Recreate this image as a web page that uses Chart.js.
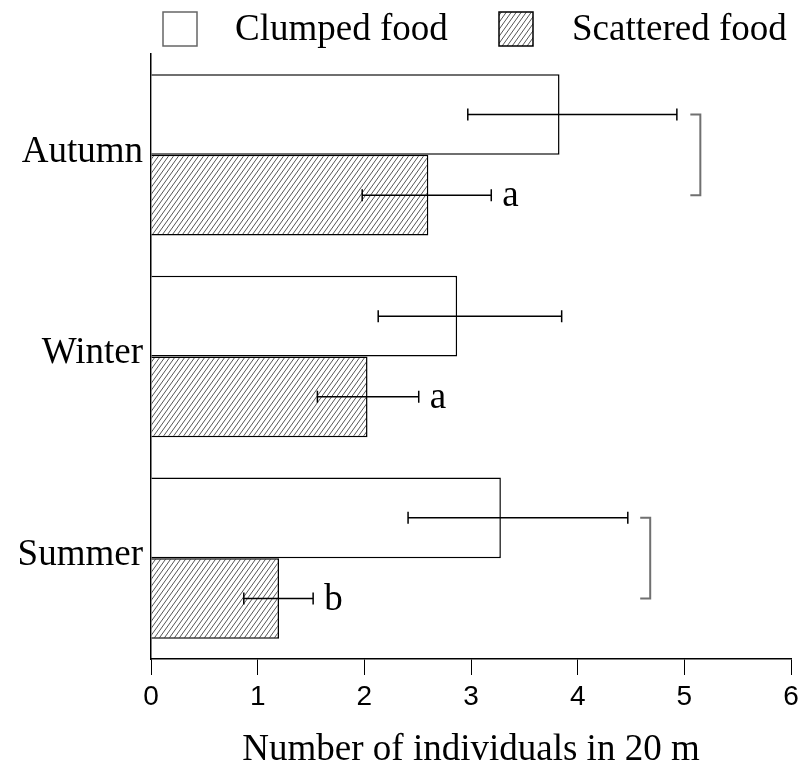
<!DOCTYPE html>
<html>
<head>
<meta charset="utf-8">
<script src="https://cdn.jsdelivr.net/npm/chart.js@4.4.1/dist/chart.umd.min.js"></script>
<style>
  html, body { margin: 0; padding: 0; background: #fff; }
  #wrap { width: 804px; height: 776px; }
</style>
</head>
<body>
<div id="wrap"><canvas id="c" width="804" height="776"></canvas></div>
<script>
// Mean number of individuals per 20 m transect, by season and food type
const seasons = ['Autumn', 'Winter', 'Summer'];
const seriesNames = ['Clumped food', 'Scattered food'];

const clumpedMean = [3.83, 2.87, 3.28];
const clumpedLow  = [2.97, 2.13, 2.41];
const clumpedHigh = [4.93, 3.85, 4.47];

const scatteredMean = [2.60, 2.03, 1.20];
const scatteredLow  = [1.98, 1.56, 0.87];
const scatteredHigh = [3.19, 2.51, 1.52];

// significance letters next to the scattered-food bars
const scatteredLetters = ['a', 'a', 'b'];
// x value of the bracket joining the two bars of a season (null = none)
const bracketAt = [5.15, null, 4.68];

const xMin = 0, xMax = 6, xStep = 1;

const SERIF = '"Liberation Serif", "Times New Roman", serif';
const SANS = '"Liberation Sans", Arial, sans-serif';
const TEXT_SIZE = 37;

function makeHatch() {
  const w = 5, h = 7;
  const c = document.createElement('canvas');
  c.width = w; c.height = h;
  const g = c.getContext('2d');
  g.fillStyle = '#fff';
  g.fillRect(0, 0, w, h);
  g.strokeStyle = '#555';
  g.lineWidth = 1;
  g.beginPath();
  for (let k = -1; k <= 1; k++) {
    g.moveTo(k * w, h);
    g.lineTo(k * w + w, 0);
  }
  g.stroke();
  return g.createPattern(c, 'repeat');
}
const hatch = makeHatch();

const errorRanges = [
  [clumpedLow, clumpedHigh],
  [scatteredLow, scatteredHigh]
];

// whiskers, letters and brackets drawn on top of the bars
const annotations = {
  id: 'annotations',
  afterDatasetsDraw(chart) {
    const ctx = chart.ctx;
    const xs = chart.scales.x;
    ctx.save();
    ctx.strokeStyle = '#000';
    ctx.lineWidth = 1.5;
    const cap = 6;
    chart.data.datasets.forEach((ds, di) => {
      const meta = chart.getDatasetMeta(di);
      const [lo, hi] = errorRanges[di];
      meta.data.forEach((bar, i) => {
        const y = bar.y;
        const x1 = xs.getPixelForValue(lo[i]);
        const x2 = xs.getPixelForValue(hi[i]);
        ctx.beginPath();
        ctx.moveTo(x1, y); ctx.lineTo(x2, y);
        ctx.moveTo(x1, y - cap); ctx.lineTo(x1, y + cap);
        ctx.moveTo(x2, y - cap); ctx.lineTo(x2, y + cap);
        ctx.stroke();
      });
    });

    // letters after the scattered-food whiskers
    const m1 = chart.getDatasetMeta(1);
    ctx.fillStyle = '#000';
    ctx.font = TEXT_SIZE + 'px ' + SERIF;
    ctx.textAlign = 'left';
    ctx.textBaseline = 'alphabetic';
    m1.data.forEach((bar, i) => {
      const x = xs.getPixelForValue(scatteredHigh[i]) + 11;
      ctx.fillText(scatteredLetters[i], x, bar.y + 11);
    });

    // brackets linking clumped and scattered bars
    const m0 = chart.getDatasetMeta(0);
    ctx.strokeStyle = '#707070';
    ctx.lineWidth = 2;
    bracketAt.forEach((v, i) => {
      if (v === null) return;
      const x = xs.getPixelForValue(v);
      const y1 = m0.data[i].y, y2 = m1.data[i].y;
      ctx.beginPath();
      ctx.moveTo(x - 10, y1); ctx.lineTo(x, y1);
      ctx.lineTo(x, y2); ctx.lineTo(x - 10, y2);
      ctx.stroke();
    });
    ctx.restore();
  }
};

// legend row across the top
const legendRow = {
  id: 'legendRow',
  afterDraw(chart) {
    const ctx = chart.ctx;
    const items = [
      { box: 163, text: 235, border: '#666' },
      { box: 499, text: 572, border: '#000' }
    ];
    const top = 12, size = 34;
    ctx.save();
    chart.data.datasets.forEach((ds, di) => {
      const it = items[di];
      ctx.fillStyle = ds.backgroundColor;
      ctx.fillRect(it.box, top, size, size);
      ctx.strokeStyle = it.border;
      ctx.lineWidth = 1.5;
      ctx.strokeRect(it.box, top, size, size);
      ctx.fillStyle = '#000';
      ctx.font = TEXT_SIZE + 'px ' + SERIF;
      ctx.textAlign = 'left';
      ctx.textBaseline = 'middle';
      ctx.fillText(ds.label, it.text, top + size / 2 + 1);
    });
    ctx.restore();
  }
};

new Chart(document.getElementById('c'), {
  type: 'bar',
  data: {
    labels: seasons,
    datasets: [
      {
        label: seriesNames[0],
        data: clumpedMean,
        backgroundColor: '#fff',
        borderColor: '#000',
        borderWidth: 1.5,
        categoryPercentage: 0.8,
        barPercentage: 1.0
      },
      {
        label: seriesNames[1],
        data: scatteredMean,
        backgroundColor: hatch,
        borderColor: '#000',
        borderWidth: 1.5,
        categoryPercentage: 0.8,
        barPercentage: 1.0
      }
    ]
  },
  options: {
    indexAxis: 'y',
    responsive: false,
    animation: false,
    devicePixelRatio: 1,
    layout: { padding: { top: 54, right: 13, bottom: 0, left: 0 } },
    plugins: {
      legend: { display: false },
      tooltip: { enabled: false }
    },
    scales: {
      x: {
        type: 'linear',
        min: xMin,
        max: xMax,
        ticks: {
          stepSize: xStep,
          color: '#000',
          font: { family: SANS, size: 28 },
          padding: 5
        },
        grid: {
          drawOnChartArea: false,
          drawTicks: true,
          tickLength: 16,
          color: '#000',
          lineWidth: 1
        },
        border: { display: true, color: '#000', width: 1.5 },
        title: {
          display: true,
          text: 'Number of individuals in 20 m',
          color: '#000',
          font: { family: SERIF, size: TEXT_SIZE },
          padding: { top: 0, bottom: 4 }
        },
        afterFit(s) { s.height = 117; }
      },
      y: {
        type: 'category',
        ticks: {
          color: '#000',
          font: { family: SERIF, size: TEXT_SIZE },
          padding: 8,
          labelOffset: -3
        },
        grid: { display: false, drawTicks: false },
        border: { display: true, color: '#000', width: 1.5 },
        afterFit(s) { s.width = 151; }
      }
    }
  },
  plugins: [annotations, legendRow]
});
</script>
</body>
</html>
